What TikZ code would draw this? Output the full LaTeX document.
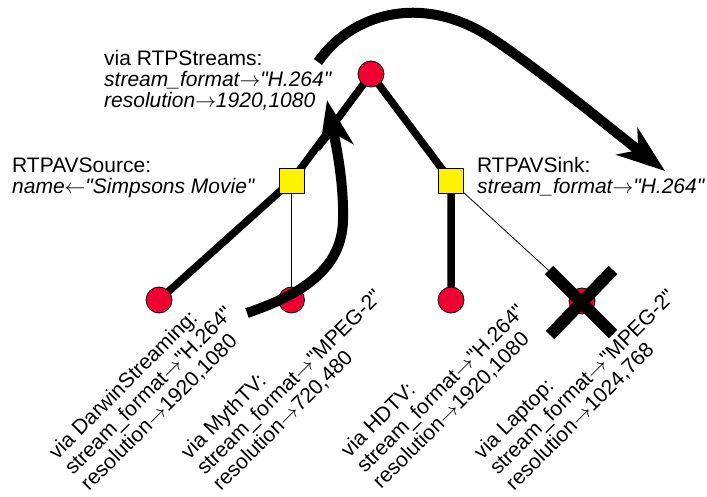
\documentclass[tikz,border=0pt]{standalone}
\usepackage{fontspec}
\setmainfont{Liberation Sans}[Ligatures=TeXOff]
\usetikzlibrary{arrows.meta,backgrounds}
\definecolor{leafred}{RGB}{240,0,50}
\newcommand{\gives}{$\rightarrow$}
\newcommand{\takes}{$\leftarrow$}
\begin{document}
\begin{tikzpicture}[x=1pt, y=-1pt,
    leaf/.style={circle, draw, fill=leafred, minimum size=26pt, inner sep=0pt, line width=0.8pt},
    joint/.style={rectangle, draw, fill=yellow, minimum size=25pt, inner sep=0pt, line width=0.8pt},
    edge/.style={line width=7.5pt},
    link/.style={line width=0.8pt},
    bigarrow/.style={line width=10pt, -{Stealth[length=48pt, width=34pt, inset=14pt]}},
    infotext/.style={inner sep=0pt, align=left, anchor=base west, font=\fontsize{21}{21}\selectfont},
    tilted/.style={inner sep=0pt, align=left, anchor=base west, rotate=45, font=\fontsize{21}{22.5}\selectfont}]
    \useasboundingbox (0,0) rectangle (707,497);
    \node[leaf] (root) at (371,74) {};
    \node[joint] (src) at (291.5,181) {};
    \node[joint] (sink) at (451,181) {};
    \node[leaf] (darwin) at (159,300) {};
    \node[leaf] (myth) at (291.5,300) {};
    \node[leaf] (hdtv) at (451,300) {};
    \node[leaf] (laptop) at (582,301) {};
    \begin{pgfonlayer}{background}
        \draw[edge] (root.center) -- (src.center) -- (darwin.center);
        \draw[edge] (root.center) -- (sink.center) -- (hdtv.center);
        \draw[link] (src.center) -- (myth.center);
        \draw[link] (sink.center) -- (laptop.center);
    \end{pgfonlayer}
    \draw[line width=12pt] ([shift={(-33,-31)}]laptop.center) -- ([shift={(31,33)}]laptop.center);
    \draw[line width=12pt] ([shift={(31,-31)}]laptop.center) -- ([shift={(-32,34)}]laptop.center);
    \node[infotext] (streams) at (104,108) {via RTPStreams:\\ \textit{stream\_format\gives"H.264"}\\ \textit{resolution\gives1920,1080}};
    \node[infotext] (source) at (12,194) {RTPAVSource:\\ \textit{name\takes"Simpsons Movie"}};
    \node[infotext] (sinktext) at (477,194) {RTPAVSink:\\ \textit{stream\_format\gives"H.264"}};
    \node[tilted] (darwintext) at (89,492) {via DarwinStreaming:\\ stream\_format\gives"H.264"\\ resolution\gives1920,1080};
    \node[tilted] (mythtext) at (221,492) {via MythTV:\\ stream\_format\gives"MPEG-2"\\ resolution\gives720,480};
    \node[tilted] (hdtvtext) at (381,490) {via HDTV:\\ stream\_format\gives"H.264"\\ resolution\gives1920,1080};
    \node[tilted] (laptoptext) at (514,492) {via Laptop:\\ stream\_format\gives"MPEG-2"\\ resolution\gives1024,768};
    \coordinate (s1) at (318,62);
    \coordinate (t1) at (665,171);
    \coordinate (s2) at (247,313);
    \coordinate (t2) at (327,100);
    \draw[bigarrow] (s1) .. controls (350,15) and (420,-8) .. (490,37) .. controls (540,70) and (610,128) .. (t1);
    \draw[bigarrow] (s2) .. controls (300,295) and (342,270) .. (343,220) .. controls (344,180) and (335,140) .. (t2);
\end{tikzpicture}
\end{document}
